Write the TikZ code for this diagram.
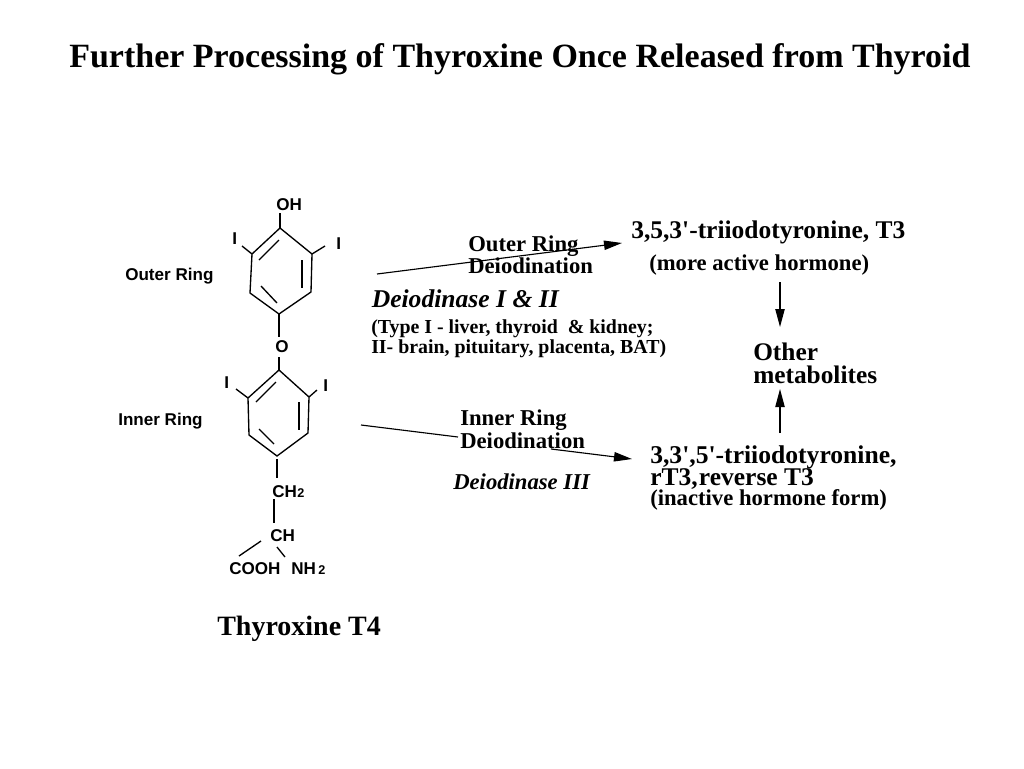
\documentclass[tikz,border=0pt]{standalone}
\usepackage{fontspec}
\setmainfont{Liberation Serif}
\setsansfont{Liberation Sans}
\usetikzlibrary{arrows.meta}
\begin{document}
\begin{tikzpicture}[x=0.75pt, y=-0.75pt,
    serif/.style={anchor=base west, inner sep=0pt, font=\bfseries\fontsize{#1}{#1}\selectfont},
    slant/.style={anchor=base west, inner sep=0pt, font=\bfseries\itshape\fontsize{#1}{#1}\selectfont},
    atom/.style={anchor=base west, inner sep=0pt, font=\sffamily\bfseries\fontsize{#1}{#1}\selectfont},
    bond/.style={line width=1pt},
    flow/.style={line width=0.85pt, -{Stealth[length=13.5pt, width=7pt, inset=0pt]}}]
    \useasboundingbox (0,0) rectangle (1024,768);

    \node [serif=25.5] (title) at (69,67.5) {Further Processing of Thyroxine Once Released from Thyroid};

    % outer ring
    \begin{scope}
      \coordinate (a1) at (280,228);
      \coordinate (a2) at (312,254);
      \coordinate (a3) at (311,292);
      \coordinate (a4) at (279,314);
      \coordinate (a5) at (250,293);
      \coordinate (a6) at (252,254);
      \coordinate (a7) at (259,260);
      \coordinate (a8) at (279,240);
      \coordinate (a9) at (302,260);
      \coordinate (a10) at (302,288);
      \coordinate (a11) at (261,286);
      \coordinate (a12) at (277,303);
      \coordinate (a13) at (280,213);
      \coordinate (a14) at (242,246);
      \coordinate (a15) at (325,246);
      \coordinate (a16) at (279,337);
      \coordinate (a17) at (279,357);
      \node [atom=12.8] (oh) at (276,210) {OH};
      \node [atom=12.8] (il) at (232,244) {I};
      \node [atom=12.8] (ir) at (336,249) {I};
      \node [atom=12.8] (ox) at (275,352) {O};
      \node [atom=12.8] (outer) at (125,280) {Outer Ring};
      \draw [bond] (a1) -- (a2) -- (a3) -- (a4) -- (a5) -- (a6) -- cycle;
      \draw [bond] (a7) -- (a8);
      \draw [bond] (a9) -- (a10);
      \draw [bond] (a11) -- (a12);
      \draw [bond] (a13) -- (a1);
      \draw [bond] (a14) -- (a6);
      \draw [bond] (a2) -- (a15);
      \draw [bond] (a4) -- (a16);
    \end{scope}

    % inner ring
    \begin{scope}
      \coordinate (b1) at (279,370);
      \coordinate (b2) at (309,397);
      \coordinate (b3) at (308,433);
      \coordinate (b4) at (277,456);
      \coordinate (b5) at (249,435);
      \coordinate (b6) at (248,398);
      \coordinate (b7) at (256,402);
      \coordinate (b8) at (276,382);
      \coordinate (b9) at (299,402);
      \coordinate (b10) at (299,430);
      \coordinate (b11) at (259,429);
      \coordinate (b12) at (274,444);
      \coordinate (b13) at (236,389);
      \coordinate (b14) at (317,390);
      \coordinate (b15) at (277,459);
      \coordinate (b16) at (277,478);
      \coordinate (b17) at (274,499);
      \coordinate (b18) at (274,523);
      \coordinate (b19) at (261,541);
      \coordinate (b20) at (239,556);
      \coordinate (b21) at (277,547);
      \coordinate (b22) at (285,557);
      \node [atom=12.8] (il2) at (224,388) {I};
      \node [atom=12.8] (ir2) at (323,391) {I};
      \node [atom=12.8] (inner) at (118,425) {Inner Ring};
      \node [atom=12.8] (ch2) at (272,497) {CH};
      \node [atom=9.5] (ch2sub) at (297,497) {2};
      \node [atom=12.8] (ch) at (270,541) {CH};
      \node [atom=12.8] (cooh) at (229,574) {COOH};
      \node [atom=12.8] (nh) at (291,574) {NH};
      \node [atom=9.5] (nhsub) at (318,574) {2};
      \draw [bond] (b1) -- (b2) -- (b3) -- (b4) -- (b5) -- (b6) -- cycle;
      \draw [bond] (a17) -- (b1);
      \draw [bond] (b7) -- (b8);
      \draw [bond] (b9) -- (b10);
      \draw [bond] (b11) -- (b12);
      \draw [bond] (b13) -- (b6);
      \draw [bond] (b2) -- (b14);
      \draw [bond] (b15) -- (b16);
      \draw [bond] (b17) -- (b18);
      \draw [bond] (b19) -- (b20);
      \draw [bond] (b21) -- (b22);
    \end{scope}

    \node [serif=21] (t4name) at (217,635) {Thyroxine T4};

    % labels on the arrows
    \node [serif=17] (outerA) at (468,251) {Outer Ring};
    \node [serif=17] (outerB) at (468,273) {Deiodination};
    \node [slant=19.2] (enzA) at (371.5,307) {Deiodinase I \& II};
    \node [serif=14.9] (typeA) at (371,333) {(Type I - liver, thyroid\ \ \& kidney;};
    \node [serif=14.9] (typeB) at (371,353) {II- brain, pituitary, placenta, BAT)};
    \node [serif=17] (innerA) at (460,425) {Inner Ring};
    \node [serif=17] (innerB) at (460,448) {Deiodination};
    \node [slant=17] (enzB) at (453,489) {Deiodinase III};

    % products
    \node [serif=19.1] (t3) at (631,238) {3,5,3\textquotesingle-triiodotyronine, T3};
    \node [serif=17] (t3note) at (649,270) {(more active hormone)};
    \node [serif=19] (otherA) at (753,360) {Other};
    \node [serif=19] (otherB) at (753,383) {metabolites};
    \node [serif=19.2] (rtA) at (650,463) {3,3\textquotesingle,5\textquotesingle-triiodotyronine,};
    \node [serif=19.1] (rtB) at (650,485) {rT3,\kern1pt reverse T3};
    \node [serif=17] (rtC) at (650,505) {(inactive hormone form)};

    \begin{scope}[flow]
      \coordinate (p1) at (377,274);
      \coordinate (p2) at (622,243);
      \coordinate (q1) at (361,425);
      \coordinate (q2) at (458,437);
      \coordinate (q3) at (551,449);
      \coordinate (q4) at (632,459);
      \coordinate (r1) at (780,282);
      \coordinate (r2) at (780,327);
      \coordinate (s1) at (780,433);
      \coordinate (s2) at (780,389);
      \draw (p1) to (p2);
      \draw [-] (q1) to (q2);
      \draw (q3) to (q4);
      \draw (r1) to (r2);
      \draw (s1) to (s2);
    \end{scope}
\end{tikzpicture}
\end{document}
